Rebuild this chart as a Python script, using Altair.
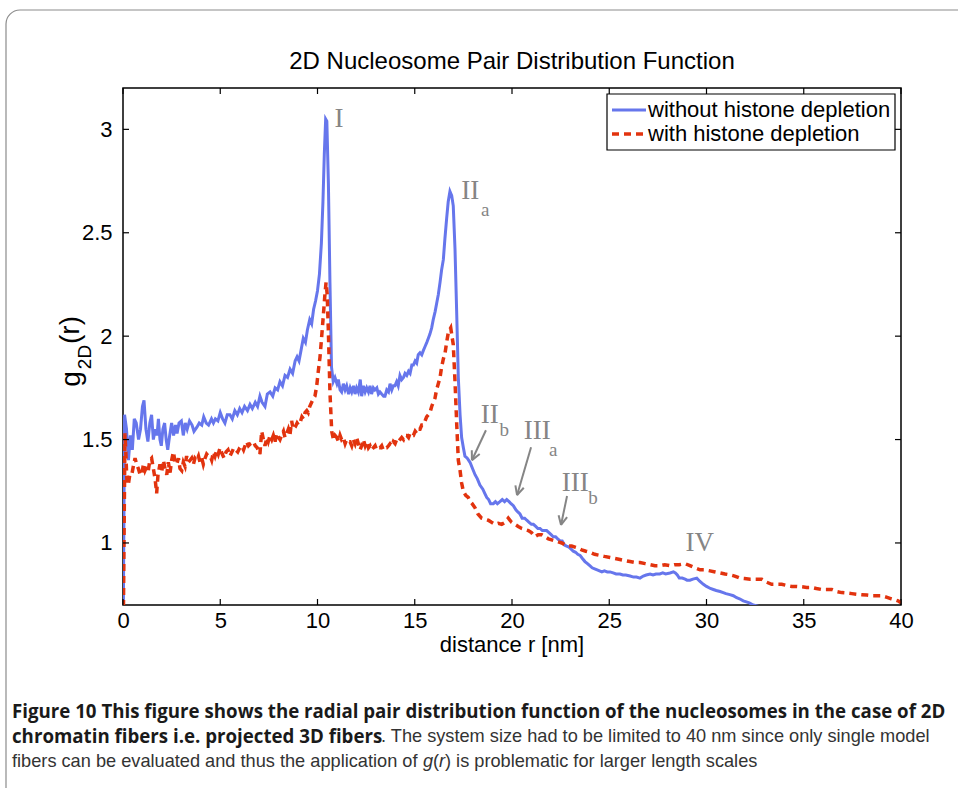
import math
import altair as alt
import pandas as pd

# ---------------- data ----------------
series_names = ["without histone depletion", "with histone depletion"]

x_wo = [0.00, 0.08, 0.18, 0.28, 0.38, 0.48, 0.58, 0.68, 0.80, 0.90, 1.00, 1.08, 1.18, 1.28, 1.38, 1.47,
        1.56, 1.66, 1.75, 1.82, 1.90, 1.97, 2.05, 2.14, 2.22, 2.30, 2.40, 2.50, 2.60, 2.70, 2.78, 2.88,
        3.00, 3.10, 3.20, 3.30, 3.42, 3.55, 3.65, 3.80, 3.92, 4.05, 4.15, 4.28, 4.40, 4.55, 4.65, 4.75,
        4.88, 5.00, 5.12, 5.24, 5.36, 5.50, 5.62, 5.75, 5.88, 6.00, 6.12, 6.25, 6.40, 6.53, 6.65, 6.80,
        6.92, 7.04, 7.15, 7.30, 7.42, 7.56, 7.70, 7.82, 7.95, 8.07, 8.20, 8.33, 8.46, 8.59, 8.72, 8.85,
        8.95, 9.05, 9.15, 9.27, 9.38, 9.48, 9.60, 9.70, 9.80, 9.90, 10.00, 10.10, 10.20, 10.28, 10.35,
        10.42, 10.48, 10.56, 10.64, 10.72, 10.81, 10.90, 11.00, 11.07, 11.16, 11.24, 11.33, 11.42, 11.50,
        11.60, 11.68, 11.76, 11.85, 11.93, 12.01, 12.10, 12.20, 12.27, 12.36, 12.45, 12.53, 12.62, 12.70,
        12.78, 12.87, 12.95, 13.05, 13.13, 13.21, 13.30, 13.40, 13.47, 13.56, 13.65, 13.73, 13.82, 13.90,
        13.98, 14.07, 14.15, 14.24, 14.33, 14.42, 14.50, 14.59, 14.68, 14.76, 14.85, 14.93, 15.02, 15.10,
        15.18, 15.27, 15.36, 15.44, 15.53, 15.62, 15.70, 15.78, 15.87, 15.95, 16.05, 16.13, 16.21, 16.30,
        16.38, 16.47, 16.55, 16.64, 16.72, 16.81, 16.90, 16.98, 17.07, 17.16, 17.24, 17.33, 17.41, 17.50,
        17.58, 17.70, 17.84, 17.97, 18.10, 18.22, 18.35, 18.50, 18.60, 18.70, 18.80, 18.90, 19.04, 19.15,
        19.25, 19.38, 19.50, 19.62, 19.73, 19.85, 19.95, 20.07, 20.20, 20.30, 20.41, 20.52, 20.65, 20.76,
        20.88, 21.00, 21.10, 21.22, 21.33, 21.44, 21.56, 21.67, 21.78, 21.90, 22.01, 22.12, 22.24, 22.35,
        22.47, 22.58, 22.70, 22.81, 22.93, 23.04, 23.15, 23.27, 23.38, 23.50, 23.62, 23.75, 23.88, 24.00,
        24.12, 24.25, 24.38, 24.50, 24.62, 24.75, 24.90, 25.04, 25.20, 25.35, 25.55, 25.70, 25.85, 26.07,
        26.25, 26.40, 26.58, 26.75, 26.90, 27.10, 27.25, 27.40, 27.60, 27.75, 27.90, 28.12, 28.30, 28.40,
        28.50, 28.60, 28.75, 28.90, 29.00, 29.15, 29.30, 29.50, 29.65, 29.84, 30.00, 30.20, 30.35, 30.50,
        30.70, 30.86, 31.00, 31.20, 31.38, 31.55, 31.70, 31.89, 32.05, 32.20, 32.40, 32.60, 32.80, 33.00]
g_wo = [0.40, 1.62, 1.55, 1.40, 1.52, 1.45, 1.60, 1.58, 1.50, 1.55, 1.66, 1.69, 1.55, 1.49, 1.58, 1.62,
        1.50, 1.55, 1.52, 1.60, 1.50, 1.47, 1.55, 1.58, 1.50, 1.45, 1.52, 1.58, 1.52, 1.57, 1.53, 1.58,
        1.59, 1.52, 1.58, 1.55, 1.59, 1.57, 1.54, 1.56, 1.58, 1.57, 1.61, 1.58, 1.57, 1.60, 1.58, 1.60,
        1.59, 1.63, 1.60, 1.58, 1.62, 1.62, 1.60, 1.64, 1.62, 1.65, 1.63, 1.66, 1.64, 1.67, 1.65, 1.68,
        1.66, 1.71, 1.68, 1.66, 1.72, 1.73, 1.71, 1.75, 1.74, 1.78, 1.76, 1.81, 1.80, 1.84, 1.82, 1.88,
        1.90, 1.88, 1.93, 1.99, 1.97, 2.03, 2.08, 2.06, 2.13, 2.17, 2.22, 2.30, 2.45, 2.65, 2.88,
        3.05, 3.04, 2.74, 2.26, 1.85, 1.78, 1.80, 1.77, 1.79, 1.74, 1.73, 1.77, 1.74, 1.76,
        1.72, 1.75, 1.73, 1.76, 1.72, 1.75, 1.73, 1.79, 1.71, 1.76, 1.73, 1.75, 1.73, 1.76,
        1.72, 1.75, 1.74, 1.75, 1.72, 1.73, 1.72, 1.71, 1.71, 1.74, 1.73, 1.77, 1.74, 1.76,
        1.76, 1.78, 1.76, 1.81, 1.79, 1.80, 1.82, 1.81, 1.83, 1.82, 1.86, 1.86, 1.88, 1.87,
        1.91, 1.92, 1.91, 1.93, 1.95, 1.97, 1.99, 2.01, 2.04, 2.08, 2.12, 2.16, 2.20, 2.26,
        2.32, 2.37, 2.47, 2.57, 2.65, 2.70, 2.68, 2.63, 2.42, 2.10, 1.80, 1.62, 1.51, 1.46,
        1.42, 1.41, 1.39, 1.36, 1.33, 1.31, 1.28, 1.26, 1.24, 1.22, 1.21, 1.19, 1.19, 1.20,
        1.19, 1.20, 1.21, 1.20, 1.21, 1.20, 1.19, 1.18, 1.16, 1.15, 1.14, 1.12, 1.12, 1.11,
        1.10, 1.09, 1.09, 1.08, 1.07, 1.07, 1.06, 1.06, 1.06, 1.05, 1.04, 1.03, 1.03, 1.02,
        1.01, 1.01, 0.99, 0.985, 0.98, 0.97, 0.96, 0.955, 0.945, 0.94, 0.925, 0.91, 0.90, 0.89,
        0.88, 0.875, 0.87, 0.865, 0.86, 0.865, 0.86, 0.86, 0.855, 0.85, 0.85, 0.845, 0.845, 0.84,
        0.835, 0.835, 0.83, 0.84, 0.845, 0.85, 0.845, 0.85, 0.85, 0.855, 0.85, 0.855, 0.86, 0.855,
        0.845, 0.83, 0.83, 0.825, 0.82, 0.82, 0.825, 0.83, 0.815, 0.80, 0.79, 0.78, 0.775, 0.77,
        0.765, 0.76, 0.755, 0.75, 0.745, 0.735, 0.73, 0.72, 0.715, 0.71, 0.70, 0.695, 0.69, 0.685]

x_w = [0.00, 0.05, 0.08, 0.10, 0.14, 0.20, 0.27, 0.35, 0.45, 0.55, 0.62, 0.70, 0.79, 0.88, 0.96, 1.05,
       1.13, 1.22, 1.30, 1.38, 1.47, 1.56, 1.65, 1.73, 1.80, 1.90, 2.00, 2.08, 2.16, 2.25, 2.33, 2.42,
       2.50, 2.59, 2.68, 2.76, 2.85, 2.93, 3.02, 3.10, 3.19, 3.27, 3.36, 3.45, 3.53, 3.62, 3.70, 3.79,
       3.88, 3.96, 4.05, 4.13, 4.22, 4.30, 4.39, 4.48, 4.56, 4.65, 4.73, 4.82, 4.90, 4.99, 5.10, 5.20,
       5.30, 5.40, 5.50, 5.60, 5.70, 5.80, 5.90, 6.00, 6.10, 6.20, 6.35, 6.45, 6.55, 6.70, 6.80, 6.90,
       7.04, 7.13, 7.22, 7.30, 7.40, 7.47, 7.56, 7.65, 7.73, 7.82, 7.90, 8.00, 8.07, 8.15, 8.25, 8.33,
       8.42, 8.50, 8.58, 8.67, 8.75, 8.85, 8.95, 9.02, 9.10, 9.20, 9.28, 9.36, 9.45, 9.52, 9.60, 9.70,
       9.80, 9.87, 9.96, 10.04, 10.13, 10.20, 10.30, 10.38, 10.44, 10.50, 10.56, 10.64, 10.73, 10.82,
       10.90, 10.99, 11.08, 11.16, 11.24, 11.33, 11.42, 11.50, 11.58, 11.67, 11.76, 11.84, 11.93, 12.01,
       12.10, 12.19, 12.27, 12.36, 12.45, 12.53, 12.62, 12.70, 12.78, 12.87, 12.96, 13.04, 13.13, 13.21,
       13.30, 13.38, 13.47, 13.56, 13.65, 13.73, 13.82, 13.90, 13.99, 14.07, 14.16, 14.24, 14.33, 14.42,
       14.50, 14.59, 14.68, 14.76, 14.85, 14.93, 15.02, 15.10, 15.18, 15.27, 15.36, 15.44, 15.53, 15.61,
       15.70, 15.78, 15.87, 15.95, 16.04, 16.12, 16.21, 16.30, 16.38, 16.47, 16.56, 16.64, 16.73, 16.85,
       16.93, 16.98, 17.07, 17.16, 17.24, 17.33, 17.41, 17.50, 17.62, 17.75, 17.85, 17.95, 18.10, 18.25,
       18.44, 18.60, 18.78, 18.95, 19.13, 19.30, 19.47, 19.65, 19.81, 19.98, 20.15, 20.32, 20.50, 20.67,
       20.84, 21.00, 21.18, 21.35, 21.53, 21.70, 21.87, 22.04, 22.21, 22.38, 22.56, 22.73, 22.90, 23.07,
       23.24, 23.41, 23.58, 23.80, 24.00, 24.25, 24.50, 24.75, 25.04, 25.30, 25.55, 25.80, 26.07, 26.33,
       26.58, 26.85, 27.10, 27.35, 27.60, 27.85, 28.12, 28.35, 28.60, 28.90, 29.15, 29.40, 29.67, 29.90,
       30.18, 30.45, 30.70, 30.95, 31.20, 31.45, 31.72, 31.95, 32.24, 32.55, 32.84, 33.10, 33.35, 33.60,
       33.87, 34.10, 34.38, 34.65, 34.90, 35.15, 35.41, 35.65, 35.92, 36.20, 36.44, 36.70, 36.95, 37.20,
       37.47, 37.75, 37.98, 38.25, 38.50, 38.75, 39.00, 39.25, 39.50, 39.70, 39.85, 40.00]
g_w = [0.40, 1.00, 1.30, 1.53, 1.45, 1.30, 1.28, 1.33, 1.33, 1.38, 1.41, 1.38, 1.36, 1.33, 1.33, 1.38,
       1.35, 1.37, 1.35, 1.40, 1.41, 1.36, 1.31, 1.24, 1.33, 1.38, 1.35, 1.40, 1.36, 1.33, 1.39, 1.34,
       1.40, 1.44, 1.39, 1.38, 1.41, 1.36, 1.35, 1.39, 1.37, 1.42, 1.39, 1.40, 1.41, 1.38, 1.41, 1.40,
       1.42, 1.39, 1.41, 1.38, 1.41, 1.43, 1.42, 1.42, 1.40, 1.44, 1.42, 1.45, 1.43, 1.46, 1.43, 1.41,
       1.44, 1.45, 1.42, 1.44, 1.46, 1.45, 1.44, 1.46, 1.47, 1.45, 1.49, 1.47, 1.48, 1.49, 1.47, 1.46,
       1.43, 1.54, 1.50, 1.47, 1.51, 1.49, 1.52, 1.50, 1.52, 1.49, 1.53, 1.51, 1.50, 1.52, 1.54, 1.51,
       1.53, 1.55, 1.52, 1.59, 1.55, 1.56, 1.58, 1.57, 1.58, 1.61, 1.60, 1.63, 1.64, 1.63, 1.66, 1.68,
       1.70, 1.71, 1.76, 1.83, 1.90, 1.98, 2.10, 2.20, 2.26, 2.20, 2.02, 1.73, 1.54, 1.50,
       1.52, 1.51, 1.49, 1.52, 1.50, 1.51, 1.48, 1.50, 1.49, 1.49, 1.47, 1.50, 1.48, 1.51,
       1.48, 1.45, 1.47, 1.50, 1.47, 1.49, 1.46, 1.47, 1.45, 1.46, 1.47, 1.45, 1.46, 1.46,
       1.47, 1.45, 1.46, 1.46, 1.47, 1.48, 1.47, 1.49, 1.48, 1.50, 1.49, 1.50, 1.51, 1.50,
       1.52, 1.52, 1.51, 1.53, 1.52, 1.52, 1.54, 1.53, 1.55, 1.55, 1.57, 1.57, 1.59, 1.61,
       1.62, 1.63, 1.66, 1.68, 1.70, 1.74, 1.77, 1.80, 1.85, 1.89, 1.92, 1.97, 2.02, 2.04,
       1.99, 1.96, 1.78, 1.57, 1.40, 1.35, 1.29, 1.25, 1.23, 1.22, 1.20, 1.19, 1.17, 1.14,
       1.12, 1.115, 1.11, 1.10, 1.09, 1.095, 1.09, 1.10, 1.12, 1.10, 1.09, 1.08, 1.07, 1.065,
       1.06, 1.05, 1.03, 1.04, 1.04, 1.03, 1.02, 1.015, 1.01, 1.005, 1.00, 0.99, 0.985, 0.985,
       0.98, 0.975, 0.967, 0.96, 0.955, 0.945, 0.94, 0.935, 0.93, 0.925, 0.92, 0.915, 0.91, 0.905,
       0.905, 0.90, 0.895, 0.89, 0.89, 0.895, 0.89, 0.895, 0.895, 0.90, 0.89, 0.88, 0.87, 0.87,
       0.865, 0.86, 0.855, 0.85, 0.846, 0.84, 0.83, 0.828, 0.825, 0.825, 0.825, 0.81, 0.80, 0.80,
       0.80, 0.795, 0.79, 0.79, 0.788, 0.785, 0.785, 0.78, 0.775, 0.775, 0.775, 0.765, 0.76, 0.758,
       0.755, 0.752, 0.75, 0.748, 0.745, 0.745, 0.745, 0.738, 0.73, 0.725, 0.72, 0.71]

x_ticks = [0, 5, 10, 15, 20, 25, 30, 35, 40]
y_ticks = [1, 1.5, 2, 2.5, 3]

title_text = "2D Nucleosome Pair Distribution Function"
x_title = "distance r [nm]"

# peak annotations (data coordinates)
ann_main = ["I", "II", "II", "III", "III", "IV"]
ann_main_x = [11.1, 17.85, 18.85, 21.3, 23.25, 29.65]
ann_main_y = [3.05, 2.70, 1.62, 1.54, 1.29, 1.00]
ann_sub = ["a", "b", "a", "b"]
ann_sub_x = [18.62, 19.6, 22.12, 24.17]
ann_sub_y = [2.61, 1.545, 1.45, 1.215]

arrow_tail_x = [18.66, 20.98, 22.83]
arrow_tail_y = [1.545, 1.463, 1.227]
arrow_head_x = [17.94, 20.26, 22.52]
arrow_head_y = [1.40, 1.231, 1.087]

caption_1 = "Figure 10 This figure shows the radial pair distribution function of the nucleosomes in the case of 2D"
caption_2b = "chromatin fibers i.e. projected 3D fibers"
caption_2r = ". The system size had to be limited to 40 nm since only single model"
caption_3 = ["fibers can be evaluated and thus the application of ", "g", "(", "r", ") is problematic for larger length scales"]

# ---------------- layout ----------------
W, H = 778, 517
PL, PT, PR, PB = 123, 88, 57, 183
BLUE = "#6676ec"
RED = "#e2330e"
GRAY = "#858585"
SANS = "Liberation Sans"
SERIF = "Liberation Serif"
FS = 22

xs = alt.Scale(domain=[0, 40], nice=False, zero=False)
ys = alt.Scale(domain=[0.7, 3.2], nice=False, zero=False)

ax_x = alt.Axis(values=x_ticks, format="d", title=None, ticks=False, domain=False, grid=False, labelFlush=False,
                labelFontSize=FS, labelFont=SANS, labelColor="black", labelPadding=5)
ax_y = alt.Axis(values=y_ticks, format="~g", title=None, ticks=False, domain=False, grid=False, labelFlush=False,
                labelFontSize=FS, labelFont=SANS, labelColor="black", labelPadding=11)


def X(f):
    return alt.X(f, scale=xs, axis=ax_x)


def Y(f):
    return alt.Y(f, scale=ys, axis=ax_y)


df_wo = pd.DataFrame({"r": x_wo, "g": g_wo, "series": series_names[0]})
df_w = pd.DataFrame({"r": x_w, "g": g_w, "series": series_names[1]})
one = pd.DataFrame({"k": [0]})

# outer page frame
frame = alt.Chart(one).mark_rect(fillOpacity=0, stroke="#8c8c8c", strokeWidth=1.2, cornerRadius=14).encode(
    x=alt.value(6 - PL), x2=alt.value(W + PR + 40), y=alt.value(10 - PT), y2=alt.value(H + PB + 40))

blue = alt.Chart(df_wo).mark_line(color=BLUE, strokeWidth=3, clip=True).encode(x=X("r:Q"), y=Y("g:Q"))
red = alt.Chart(df_w).mark_line(color=RED, strokeWidth=3.5, strokeDash=[7, 5], clip=True).encode(
    x=X("r:Q"), y=Y("g:Q"))

# inward ticks on all four sides
dfx = pd.DataFrame({"t": x_ticks})
dfy = pd.DataFrame({"t": y_ticks})
tk = dict(color="black", strokeWidth=1.2)
tick_b = alt.Chart(dfx).mark_rule(**tk).encode(x=X("t:Q"), y=alt.value(H), y2=alt.value(H - 6))
tick_t = alt.Chart(dfx).mark_rule(**tk).encode(x=X("t:Q"), y=alt.value(0), y2=alt.value(6))
tick_l = alt.Chart(dfy).mark_rule(**tk).encode(y=Y("t:Q"), x=alt.value(0), x2=alt.value(6))
tick_r = alt.Chart(dfy).mark_rule(**tk).encode(y=Y("t:Q"), x=alt.value(W), x2=alt.value(W - 6))

# annotations
df_main = pd.DataFrame({"x": ann_main_x, "y": ann_main_y, "t": ann_main})
df_sub = pd.DataFrame({"x": ann_sub_x, "y": ann_sub_y, "t": ann_sub})
ann1 = alt.Chart(df_main).mark_text(font=SERIF, fontSize=27, color=GRAY, align="center", baseline="middle").encode(
    x=X("x:Q"), y=Y("y:Q"), text="t:N")
ann2 = alt.Chart(df_sub).mark_text(font=SERIF, fontSize=19, color=GRAY, align="center", baseline="middle").encode(
    x=X("x:Q"), y=Y("y:Q"), text="t:N")

# arrows: shaft + open head
sx, sy = W / 40.0, H / 2.5
seg = {"x": [], "y": [], "x2": [], "y2": []}
for tx, ty, hx, hy in zip(arrow_tail_x, arrow_tail_y, arrow_head_x, arrow_head_y):
    seg["x"].append(tx); seg["y"].append(ty); seg["x2"].append(hx); seg["y2"].append(hy)
    ang = math.atan2(-(hy - ty) * sy, (hx - tx) * sx)
    for d in (0.45, -0.45):
        L = 10
        wx = hx - L * math.cos(ang + d) / sx
        wy = hy + L * math.sin(ang + d) / sy
        seg["x"].append(hx); seg["y"].append(hy); seg["x2"].append(wx); seg["y2"].append(wy)
arrows = alt.Chart(pd.DataFrame(seg)).mark_rule(color=GRAY, strokeWidth=2).encode(
    x=X("x:Q"), y=Y("y:Q"), x2="x2:Q", y2="y2:Q")


def txt(s, x, y, size=18, font=SANS, weight="normal", style="normal", align="center", angle=0, color="black"):
    kw = dict(font=font, fontSize=size, fontWeight=weight, fontStyle=style, align=align,
              baseline="middle", color=color)
    if angle:
        kw["angle"] = angle
    return alt.Chart(one).mark_text(**kw).encode(x=alt.value(x), y=alt.value(y), text=alt.value(s))


title = txt(title_text, W / 2, 62 - PT, size=24)
xlab = txt(x_title, W / 2, 645 - PT, size=FS)
ylab_g = txt("g", 72 - PL, 379 - PT, size=28, angle=270)
ylab_s = txt("2D", 85 - PL, 357 - PT, size=19, angle=270)
ylab_r = txt("(r)", 71 - PL, 330 - PT, size=28, angle=270)

# legend (drawn)
leg_box = alt.Chart(one).mark_rect(fill="white", stroke="black", strokeWidth=1.2).encode(
    x=alt.value(607 - PL), x2=alt.value(895 - PL), y=alt.value(94 - PT), y2=alt.value(150 - PT))
leg_b = alt.Chart(one).mark_rule(color=BLUE, strokeWidth=3).encode(
    x=alt.value(612 - PL), x2=alt.value(646 - PL), y=alt.value(110 - PT))
leg_r = alt.Chart(one).mark_rule(color=RED, strokeWidth=3.5, strokeDash=[7, 5]).encode(
    x=alt.value(612 - PL), x2=alt.value(646 - PL), y=alt.value(134 - PT))
leg_t1 = txt(series_names[0], 648 - PL, 110 - PT, size=FS, align="left")
leg_t2 = txt(series_names[1], 648 - PL, 134 - PT, size=FS, align="left")

# caption
BOLD = "Open Sans"
BS = 18.7
CS = 18.2
cap1 = txt(caption_1, 12 - PL, 712 - PT, size=BS, font=BOLD, weight="bold", align="left", color="#1a1a1a")
cap2b = txt(caption_2b, 12 - PL, 737 - PT, size=BS, font=BOLD, weight="bold", align="left", color="#1a1a1a")
cap2r = txt(caption_2r, 381 - PL, 737 - PT, size=CS, align="left", color="#333333")
cap3 = [
    txt(caption_3[0], 12 - PL, 762 - PT, size=CS, align="left", color="#333333"),
    txt(caption_3[1], 423 - PL, 762 - PT, size=CS, style="italic", align="left", color="#333333"),
    txt(caption_3[2], 433 - PL, 762 - PT, size=CS, align="left", color="#333333"),
    txt(caption_3[3], 439 - PL, 762 - PT, size=CS, style="italic", align="left", color="#333333"),
    txt(caption_3[4], 445 - PL, 762 - PT, size=CS, align="left", color="#333333"),
]

chart = alt.layer(
    frame, blue, red, tick_b, tick_t, tick_l, tick_r, arrows, ann1, ann2,
    title, xlab, ylab_g, ylab_s, ylab_r,
    leg_box, leg_b, leg_r, leg_t1, leg_t2,
    cap1, cap2b, cap2r, *cap3,
).properties(
    width=W, height=H,
    autosize=alt.AutoSizeParams(type="none"),
    padding={"left": PL, "top": PT, "right": PR, "bottom": PB},
    background="white",
).configure_view(stroke="black", strokeWidth=1.5)

chart.save("out.html", embed_options={"renderer": "svg", "actions": False})
